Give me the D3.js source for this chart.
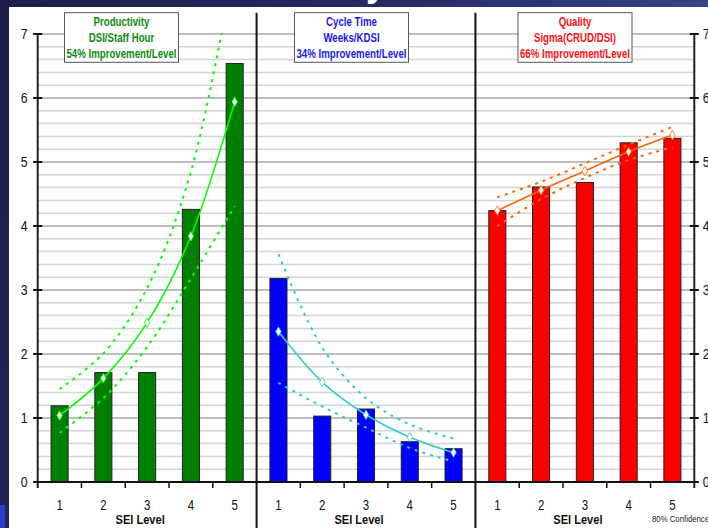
<!DOCTYPE html>
<html>
<head>
<meta charset="utf-8">
<script src="https://cdn.jsdelivr.net/npm/d3@7"></script>
<style>
  body { margin: 0; padding: 0; background: #1b1f45; }
  svg { display: block; }
  text { font-family: "Liberation Sans", Arial, sans-serif; }
</style>
</head>
<body>
<div id="chart"></div>
<script>
//constants and globals
const width = 708,
  height = 528,
  margin = { top: 34, bottom: 46, left: 37.7, right: 13.7 };
const narrowK = 0.82; // fake Arial Narrow by squeezing Liberation Sans

// data
const levels = ["1", "2", "3", "4", "5"];
const yTicks = [0, 1, 2, 3, 4, 5, 6, 7];

const productivityBars = [1.19, 1.71, 1.71, 4.26, 6.54];
const productivityFit = [1.04, 1.62, 2.49, 3.84, 5.94];
const productivityUpper = [1.45, 2.01, 3.03, 4.85, 8.1];
const productivityLower = [0.77, 1.31, 2.11, 3.18, 4.31];

const cycleBars = [3.18, 1.03, 1.14, 0.63, 0.52];
const cycleFit = [2.35, 1.56, 1.05, 0.70, 0.46];
const cycleUpper = [3.56, 2.10, 1.31, 0.90, 0.68];
const cycleLower = [1.55, 1.18, 0.85, 0.53, 0.32];

const qualityBars = [4.24, 4.61, 4.68, 5.30, 5.37];
const qualityFit = [4.24, 4.56, 4.86, 5.16, 5.42];
const qualityUpper = [4.45, 4.69, 4.98, 5.27, 5.55];
const qualityLower = [4.00, 4.42, 4.75, 5.03, 5.23];

const panelTitles = [
  ["Productivity", "DSI/Staff Hour", "54% Improvement/Level"],
  ["Cycle Time", "Weeks/KDSI", "34% Improvement/Level"],
  ["Quality", "Sigma(CRUD/DSI)", "66% Improvement/Level"]
];

const panels = [
  { key: "prod", bars: productivityBars, fit: productivityFit, upper: productivityUpper, lower: productivityLower,
    barColor: "#008000", lineColor: "#00ff00", textColor: "#0f8a0f", title: panelTitles[0], boxX: 64.5 },
  { key: "cycle", bars: cycleBars, fit: cycleFit, upper: cycleUpper, lower: cycleLower,
    barColor: "#0000ff", lineColor: "#33cccc", textColor: "#1a1aee", title: panelTitles[1], boxX: 294.5 },
  { key: "quality", bars: qualityBars, fit: qualityFit, upper: qualityUpper, lower: qualityLower,
    barColor: "#ff0000", lineColor: "#ff6600", textColor: "#ff1010", title: panelTitles[2], boxX: 518 }
];

const svg = d3.select("#chart")
  .append("svg")
  .attr("width", width)
  .attr("height", height);

// squeezed text helper
function narrowText(sel, x, y) {
  return sel.attr("transform", `translate(${x},${y}) scale(${narrowK},1)`);
}

// slide background
const defs = svg.append("defs");
const grad = defs.append("linearGradient")
  .attr("id", "bg")
  .attr("x1", 0).attr("y1", 0).attr("x2", 1).attr("y2", 0.3);
grad.append("stop").attr("offset", "0%").attr("stop-color", "#1a1e48");
grad.append("stop").attr("offset", "55%").attr("stop-color", "#262c66");
grad.append("stop").attr("offset", "100%").attr("stop-color", "#3a4888");

svg.append("rect")
  .attr("width", width)
  .attr("height", height)
  .attr("fill", "url(#bg)");

// bit of slide title peeking from the top
svg.append("text")
  .attr("x", 366)
  .attr("y", -4)
  .attr("fill", "white")
  .attr("font-size", 36)
  .attr("font-weight", "bold")
  .text("y");

svg.append("rect")
  .attr("x", 0).attr("y", 505)
  .attr("width", 5).attr("height", 23)
  .attr("fill", "#2a3cc8");

// white chart area
svg.append("rect")
  .attr("x", 9)
  .attr("y", 7)
  .attr("width", width - 9)
  .attr("height", height - 7)
  .attr("fill", "white");

const y = d3.scaleLinear()
  .domain([0, 7])
  .range([height - margin.bottom, margin.top]);

const panelX = d3.scaleBand()
  .domain(panels.map(d => d.key))
  .range([margin.left, width - margin.right]);

// gridlines
const gridVals = d3.range(1, 36).map(i => i / 5);
svg.append("g")
  .selectAll("line")
  .data(gridVals)
  .join("line")
  .attr("x1", margin.left)
  .attr("x2", width - margin.right)
  .attr("y1", d => y(d))
  .attr("y2", d => y(d))
  .attr("stroke", d => Math.abs(d - Math.round(d)) < 1e-6 ? "#a9a9a9" : "#d4d4d4")
  .attr("stroke-width", 1.5);

const clip = defs.append("clipPath").attr("id", "plotclip");
clip.append("rect")
  .attr("x", margin.left)
  .attr("y", y(7) - 1)
  .attr("width", width - margin.left - margin.right)
  .attr("height", y(0) - y(7) + 1);

const lineGen = x => d3.line()
  .x((d, i) => x(levels[i]) + x.bandwidth() / 2)
  .y(d => y(d))
  .curve(d3.curveCatmullRom);

panels.forEach(p => {
  const p0 = panelX(p.key);
  const x = d3.scaleBand()
    .domain(levels)
    .range([p0, p0 + panelX.bandwidth()])
    .paddingInner(0.61)
    .paddingOuter(0.305);

  const g = svg.append("g");

  // bars
  g.selectAll("rect.bar")
    .data(p.bars)
    .join("rect")
    .attr("class", "bar")
    .attr("x", (d, i) => x(levels[i]))
    .attr("width", x.bandwidth())
    .attr("y", d => y(d))
    .attr("height", d => y(0) - y(d))
    .attr("fill", p.barColor)
    .attr("stroke", "#222")
    .attr("stroke-width", 1);

  const lg = g.append("g").attr("clip-path", "url(#plotclip)");

  [p.upper, p.lower].forEach(series => {
    lg.append("path")
      .attr("d", lineGen(x)(series))
      .attr("fill", "none")
      .attr("stroke", p.lineColor)
      .attr("stroke-width", 2)
      .attr("stroke-dasharray", "3,5");
  });

  lg.append("path")
    .attr("d", lineGen(x)(p.fit))
    .attr("fill", "none")
    .attr("stroke", p.lineColor)
    .attr("stroke-width", 1.6);

  lg.selectAll("path.marker")
    .data(p.fit)
    .join("path")
    .attr("class", "marker")
    .attr("d", d3.symbol(d3.symbolDiamond, 26))
    .attr("transform", (d, i) => `translate(${x(levels[i]) + x.bandwidth() / 2},${y(d)})`)
    .attr("fill", "white")
    .attr("stroke", p.lineColor)
    .attr("stroke-width", 0.8);

  // category ticks between levels
  g.selectAll("line.ctick")
    .data(levels.slice(1))
    .join("line")
    .attr("class", "ctick")
    .attr("x1", d => x(d) - x.step() * x.paddingInner() / 2)
    .attr("x2", d => x(d) - x.step() * x.paddingInner() / 2)
    .attr("y1", y(0))
    .attr("y2", y(0) + 6)
    .attr("stroke", "#111")
    .attr("stroke-width", 1.5);

  g.selectAll("text.clabel")
    .data(levels)
    .join("text")
    .attr("class", "clabel")
    .each(function (d) {
      narrowText(d3.select(this), x(d) + x.bandwidth() / 2, 509.5);
    })
    .attr("text-anchor", "middle")
    .attr("font-size", 14)
    .attr("fill", "#111")
    .text(d => d);

  narrowText(g.append("text"), p0 + panelX.bandwidth() / 2 - 7, 524)
    .attr("text-anchor", "middle")
    .attr("font-size", 13.5)
    .attr("font-weight", "bold")
    .attr("fill", "#111")
    .text("SEI Level");

  // title box
  const box = g.append("g").attr("transform", `translate(${p.boxX},12.7)`);
  box.append("rect")
    .attr("width", 114)
    .attr("height", 49.6)
    .attr("fill", "white")
    .attr("stroke", "#555")
    .attr("stroke-width", 1);
  const tl = box.selectAll("text")
    .data(p.title)
    .join("text")
    .attr("x", 57)
    .attr("y", (d, i) => 13.8 + i * 15.6)
    .attr("text-anchor", "middle")
    .attr("font-size", 13)
    .attr("font-weight", "bold")
    .attr("fill", p.textColor)
    .text(d => d);
  // squeeze so that the longest line is ~110px, like Arial Narrow
  const lens = tl.nodes().map(n => n.getComputedTextLength());
  const k = 110 / d3.max(lens);
  tl.attr("textLength", (d, i) => lens[i] * k)
    .attr("lengthAdjust", "spacingAndGlyphs");
});

// panel dividers
svg.append("g")
  .selectAll("line")
  .data(panels.slice(1))
  .join("line")
  .attr("x1", d => panelX(d.key))
  .attr("x2", d => panelX(d.key))
  .attr("y1", 12.7)
  .attr("y2", height)
  .attr("stroke", "#111")
  .attr("stroke-width", 2);

// y axes
const axisL = svg.append("g").attr("transform", `translate(${margin.left},0)`);
const axisR = svg.append("g").attr("transform", `translate(${width - margin.right},0)`);
[axisL, axisR].forEach((ax, k) => {
  ax.append("line")
    .attr("y1", y(7))
    .attr("y2", y(0) + 6)
    .attr("stroke", "#222")
    .attr("stroke-width", 2);
  ax.selectAll("line.tick")
    .data(yTicks)
    .join("line")
    .attr("class", "tick")
    .attr("x1", -4.5)
    .attr("x2", 4.5)
    .attr("y1", d => y(d))
    .attr("y2", d => y(d))
    .attr("stroke", "#111")
    .attr("stroke-width", 2);
  ax.selectAll("text")
    .data(yTicks)
    .join("text")
    .each(function (d) {
      narrowText(d3.select(this), k === 0 ? -10 : 8.5, y(d));
    })
    .attr("dy", "0.36em")
    .attr("text-anchor", k === 0 ? "end" : "start")
    .attr("font-size", 15)
    .attr("fill", "#111")
    .text(d => d);
});

// x axis line
svg.append("line")
  .attr("x1", margin.left)
  .attr("x2", width - margin.right)
  .attr("y1", y(0))
  .attr("y2", y(0))
  .attr("stroke", "#111")
  .attr("stroke-width", 2);

narrowText(svg.append("text"), 652, 521.5)
  .attr("font-size", 9.5)
  .attr("fill", "#222")
  .text("80% Confidence");
</script>
</body>
</html>
